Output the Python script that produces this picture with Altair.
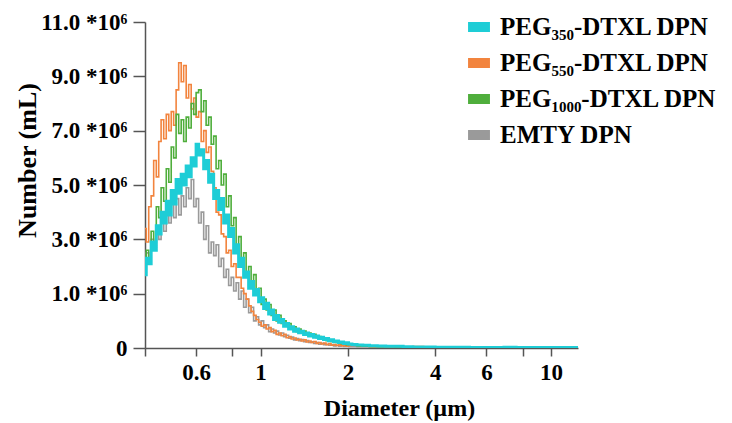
import altair as alt
import pandas as pd

# Diameter bins (µm)
diameter = [
    0.400, 0.408, 0.416, 0.424, 0.433, 0.442, 0.450, 0.459, 0.469, 0.478,
    0.488, 0.497, 0.507, 0.517, 0.528, 0.538, 0.549, 0.560, 0.571, 0.583,
    0.594, 0.606, 0.618, 0.631, 0.643, 0.656, 0.669, 0.683, 0.696, 0.710,
    0.725, 0.739, 0.754, 0.769, 0.784, 0.800, 0.816, 0.832, 0.849, 0.866,
    0.883, 0.901, 0.919, 0.937, 0.956, 0.975, 0.995, 1.015, 1.035, 1.056,
    1.077, 1.098, 1.120, 1.143, 1.165, 1.189, 1.213, 1.237, 1.262, 1.287,
    1.313, 1.339, 1.366, 1.393, 1.421, 1.449, 1.478, 1.508, 1.538, 1.569,
    1.600, 1.632, 1.665, 1.698, 1.732, 1.767, 1.802, 1.838, 1.875, 1.913,
    1.951, 1.990, 2.030,
    2.1, 2.2, 2.3, 2.45, 2.6, 2.8, 3.0, 3.2, 3.5, 3.8,
    4.2, 4.6, 5.0, 5.5, 6.0, 6.6, 7.2, 8.0, 9.0, 10.0,
    11.0, 12.4,
]

# Values in axis units (as drawn on the chart's y scale)
peg350 = [
    2.7, 3.3, 3.1, 3.9, 3.6, 4.5, 4.2, 5.0, 4.6, 5.4,
    4.9, 5.8, 5.3, 6.2, 5.7, 6.4, 6.0, 6.7, 6.3, 7.0,
    6.7, 7.5, 7.1, 7.3, 6.6, 6.9, 6.1, 6.4, 5.5, 5.8,
    5.1, 5.5, 4.6, 4.9, 4.1, 4.4, 3.5, 3.8, 3.0, 3.3,
    2.6, 2.8, 2.2, 2.45, 1.95, 2.15, 1.7, 1.85, 1.45, 1.65,
    1.25, 1.4, 1.05, 1.2, 0.95, 1.05, 0.8, 0.9, 0.7, 0.78,
    0.62, 0.7, 0.56, 0.62, 0.5, 0.55, 0.44, 0.5, 0.4, 0.44,
    0.35, 0.4, 0.31, 0.35, 0.27, 0.3, 0.23, 0.26, 0.2, 0.22,
    0.17, 0.19, 0.15,
    0.13, 0.11, 0.1, 0.08, 0.07, 0.06, 0.06, 0.05, 0.04, 0.04,
    0.03, 0.03, 0.03, 0.02, 0.02, 0.02, 0.03, 0.02, 0.02, 0.02,
    0.02, 0.02,
]
peg550 = [
    4.4, 3.9, 5.2, 5.6, 6.9, 6.3, 7.6, 8.4, 7.7, 8.6,
    8.0, 8.7, 8.2, 9.5, 10.5, 9.8, 10.4, 9.2, 9.7, 8.8,
    9.2, 8.5, 8.7, 7.6, 8.0, 7.2, 7.4, 6.5, 5.9, 5.0,
    4.9, 4.2, 4.1, 3.5, 3.6, 3.0, 3.1, 2.6, 2.6, 2.2,
    2.0, 1.8, 1.55, 1.35, 1.2, 1.05, 0.95, 0.8, 0.85, 0.7,
    0.75, 0.6, 0.65, 0.5, 0.55, 0.45, 0.5, 0.38, 0.42, 0.33,
    0.37, 0.3, 0.32, 0.26, 0.3, 0.22, 0.26, 0.2, 0.24, 0.17,
    0.2, 0.15, 0.18, 0.12, 0.16, 0.1, 0.13, 0.09, 0.12, 0.08,
    0.1, 0.07, 0.09,
    0.1, 0.07, 0.09, 0.05, 0.08, 0.05, 0.06, 0.04, 0.05, 0.03,
    0.03, 0.02, 0.03, 0.02, 0.02, 0.03, 0.02, 0.02, 0.01, 0.02,
    0.01, 0.01,
]
peg1000 = [
    2.9, 3.6, 3.2, 4.3, 3.9, 5.2, 4.8, 5.9, 5.4, 6.6,
    6.1, 7.4, 7.0, 8.6, 7.9, 8.4, 7.6, 8.5, 8.1, 9.0,
    8.6, 9.4, 9.5, 8.7, 9.1, 8.2, 8.5, 7.5, 7.8, 6.6,
    6.9, 6.0, 6.4, 5.2, 5.6, 4.5, 4.8, 3.8, 4.1, 3.2,
    3.5, 2.8, 3.0, 2.4, 2.7, 2.0, 2.2, 1.6, 1.8, 1.4,
    1.6, 1.2, 1.4, 1.0, 1.2, 0.9, 1.0, 0.8, 0.9, 0.7,
    0.78, 0.6, 0.7, 0.55, 0.62, 0.5, 0.55, 0.44, 0.5, 0.38,
    0.42, 0.32, 0.36, 0.27, 0.3, 0.24, 0.26, 0.2, 0.22, 0.16,
    0.18, 0.12, 0.14,
    0.1, 0.08, 0.07, 0.06, 0.05, 0.05, 0.04, 0.04, 0.03, 0.03,
    0.02, 0.02, 0.02, 0.02, 0.01, 0.02, 0.01, 0.01, 0.01, 0.01,
    0.01, 0.01,
]
empty = [
    2.8, 3.5, 3.2, 4.0, 3.7, 4.4, 4.0, 4.7, 4.3, 5.0,
    4.6, 5.4, 4.8, 5.5, 4.9, 5.6, 5.2, 5.9, 5.5, 6.2,
    5.2, 5.5, 4.6, 5.0, 4.0, 4.5, 3.5, 3.9, 3.4, 3.8,
    3.0, 3.3, 2.6, 2.9, 2.3, 2.6, 2.1, 2.4, 1.8, 2.1,
    1.5, 1.8, 1.3, 1.5, 1.0, 1.15, 0.85, 1.0, 0.75, 0.85,
    0.6, 0.7, 0.55, 0.62, 0.48, 0.55, 0.42, 0.47, 0.36, 0.4,
    0.3, 0.35, 0.27, 0.31, 0.23, 0.27, 0.2, 0.23, 0.17, 0.2,
    0.14, 0.17, 0.12, 0.14, 0.1, 0.12, 0.08, 0.1, 0.07, 0.09,
    0.06, 0.08, 0.05,
    0.05, 0.04, 0.04, 0.03, 0.03, 0.02, 0.02, 0.02, 0.02, 0.01,
    0.01, 0.01, 0.01, 0.01, 0.01, 0.01, 0.01, 0.01, 0.01, 0.01,
    0.01, 0.01,
]

series_names = ["PEG₃₅₀-DTXL DPN", "PEG₅₅₀-DTXL DPN", "PEG₁₀₀₀-DTXL DPN", "EMTY DPN"]
series_colors = ["#1ecdd6", "#f2843e", "#4fae3c", "#9a9a9a"]
series_values = [peg350, peg550, peg1000, empty]

rows = []
for name, vals in zip(series_names, series_values):
    for d, v in zip(diameter, vals):
        rows.append({"d": d, "v": v, "series": name})
df = pd.DataFrame(rows)

FONT = "Liberation Serif"

x_enc = alt.X(
    "d:Q",
    scale=alt.Scale(type="log", domain=[0.4, 12.4], nice=False),
    axis=alt.Axis(
        title="Diameter (µm)",
        values=[0.4, 0.6, 0.8, 1, 2, 4, 6, 8, 10],
        labelExpr="(datum.value == 0.4 || datum.value == 0.8 || datum.value == 8) ? '' : toString(datum.value)",
        grid=False,
        tickSize=8,
        labelPadding=5,
        titleX=254,
        titleY=67,
        titleAlign="center",
        titleBaseline="alphabetic",
    ),
)
y_enc = alt.Y(
    "v:Q",
    scale=alt.Scale(domain=[0, 12], nice=False, zero=True),
    axis=alt.Axis(
        title="Number (mL)",
        values=[0, 2, 4, 6, 8, 10, 12],
        labelExpr="datum.value == 0 ? '0' : format(datum.value - 1, '.1f') + ' *10⁶'",
        grid=False,
        tickSize=12,
        labelPadding=6,
        titleX=-110,
        titleY=138,
        titleAngle=-90,
        titleFontSize=26,
        titleAlign="center",
        titleBaseline="alphabetic",
    ),
)
color_enc = alt.Color(
    "series:N",
    scale=alt.Scale(domain=series_names, range=series_colors),
    legend=alt.Legend(
        title=None,
        orient="none",
        legendX=318,
        legendY=-11,
        symbolType="stroke",
        symbolSize=480,
        symbolStrokeWidth=10,
        labelFont=FONT,
        labelFontSize=25,
        labelFontWeight="bold",
        labelColor="#000",
        labelOffset=5,
        rowPadding=-6,
        labelLimit=400,
    ),
)

def layer(name, width):
    return (
        alt.Chart(df)
        .transform_filter(alt.datum.series == name)
        .mark_line(interpolate="step", clip=True, strokeWidth=width)
        .encode(x=x_enc, y=y_enc, color=color_enc)
    )

chart = (
    alt.layer(
        layer(series_names[3], 1.6),
        layer(series_names[1], 1.6),
        layer(series_names[2], 1.6),
        layer(series_names[0], 3.0),
    )
    .properties(
        width=433,
        height=326,
        autosize=alt.AutoSizeParams(type="none"),
        padding={"left": 137, "top": 14, "right": 146, "bottom": 75},
    )
    .configure_view(stroke=None)
    .configure_axis(
        labelFont=FONT,
        labelFontSize=23,
        labelFontWeight="bold",
        labelColor="#000",
        titleFont=FONT,
        titleFontSize=24,
        titleFontWeight="bold",
        titleColor="#000",
        domainColor="#555",
        domainWidth=1.5,
        tickColor="#555",
        tickWidth=1.5,
    )
)

chart.save("out.html", embed_options={"renderer": "svg", "actions": False})
